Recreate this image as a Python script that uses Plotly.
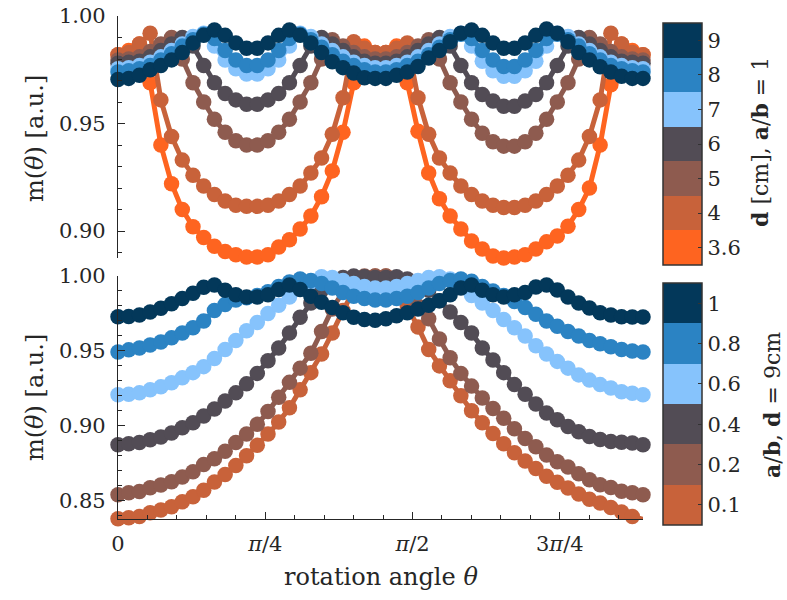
import numpy as np
import plotly.graph_objects as go

# rotation angle grid [rad]
theta = np.linspace(0.0, 2.8, 50)

# ---------- top panel: a/b = 1, varying d [cm] ----------
d_labels = ["3.6", "4", "5", "6", "7", "8", "9"]
top_colors = ["#fe6420", "#c8623a", "#8e5b4f", "#524c55", "#86c3fc", "#2b83c3", "#03385a"]

m_d36 = [0.982, 0.984, 0.987, 0.969, 0.940, 0.922, 0.910, 0.902, 0.897, 0.893,
         0.8905, 0.889, 0.888, 0.888, 0.889, 0.8926, 0.896, 0.901, 0.907, 0.916,
         0.928, 0.946, 0.969, 0.986, 0.983, 0.983, 0.986, 0.969, 0.9464, 0.927,
         0.915, 0.907, 0.901, 0.8954, 0.8917, 0.8884, 0.8875, 0.888, 0.889, 0.8917,
         0.895, 0.8977, 0.9023, 0.910, 0.920, 0.940, 0.968, 0.987, 0.984, 0.982]
m_d4 = [0.982, 0.983, 0.987, 0.992, 0.961, 0.944, 0.933, 0.926, 0.921, 0.917,
        0.914, 0.912, 0.9115, 0.9115, 0.912, 0.914, 0.917, 0.921, 0.927, 0.934,
        0.945, 0.962, 0.988, 0.985, 0.983, 0.983, 0.985, 0.9875, 0.962, 0.945,
        0.934, 0.927, 0.921, 0.917, 0.914, 0.912, 0.911, 0.911, 0.912, 0.914,
        0.917, 0.921, 0.926, 0.933, 0.944, 0.961, 0.992, 0.987, 0.983, 0.982]
m_d5 = [0.9795, 0.980, 0.981, 0.9835, 0.987, 0.990, 0.980, 0.969, 0.960, 0.952,
        0.946, 0.942, 0.940, 0.940, 0.942, 0.946, 0.952, 0.960, 0.969, 0.980,
        0.989, 0.986, 0.983, 0.981, 0.980, 0.980, 0.981, 0.983, 0.986, 0.989,
        0.980, 0.969, 0.960, 0.952, 0.9455, 0.9415, 0.9395, 0.9395, 0.9415, 0.9455,
        0.952, 0.960, 0.969, 0.980, 0.990, 0.987, 0.9835, 0.981, 0.980, 0.9795]
m_d6 = [0.978, 0.9785, 0.979, 0.981, 0.984, 0.987, 0.990, 0.986, 0.977, 0.969,
        0.964, 0.961, 0.959, 0.959, 0.961, 0.964, 0.969, 0.977, 0.986, 0.990,
        0.987, 0.984, 0.981, 0.979, 0.978, 0.978, 0.979, 0.981, 0.984, 0.987,
        0.990, 0.986, 0.977, 0.969, 0.9635, 0.9605, 0.958, 0.958, 0.9605, 0.9635,
        0.969, 0.977, 0.986, 0.990, 0.987, 0.984, 0.981, 0.979, 0.9785, 0.978]
m_d7 = [0.9755, 0.976, 0.977, 0.9785, 0.981, 0.984, 0.987, 0.9905, 0.992, 0.986,
        0.9795, 0.9755, 0.973, 0.973, 0.9755, 0.9795, 0.986, 0.992, 0.9905, 0.987,
        0.984, 0.981, 0.9785, 0.977, 0.976, 0.976, 0.977, 0.9785, 0.981, 0.984,
        0.987, 0.9905, 0.992, 0.986, 0.979, 0.9745, 0.972, 0.972, 0.9745, 0.979,
        0.986, 0.992, 0.9905, 0.987, 0.984, 0.981, 0.9785, 0.977, 0.976, 0.9755]
m_d8 = [0.974, 0.9745, 0.9755, 0.977, 0.9795, 0.9825, 0.986, 0.989, 0.9915, 0.9895,
        0.984, 0.9795, 0.977, 0.977, 0.9795, 0.984, 0.9895, 0.9915, 0.989, 0.9855,
        0.982, 0.979, 0.977, 0.975, 0.974, 0.974, 0.975, 0.977, 0.979, 0.982,
        0.9855, 0.989, 0.9915, 0.9895, 0.984, 0.9795, 0.9765, 0.9765, 0.9795, 0.984,
        0.9895, 0.9915, 0.989, 0.986, 0.9825, 0.9795, 0.977, 0.9755, 0.9745, 0.974]
m_d9 = [0.9705, 0.971, 0.9725, 0.975, 0.977, 0.9796, 0.983, 0.9875, 0.991, 0.9935,
        0.991, 0.9875, 0.985, 0.985, 0.9875, 0.991, 0.9935, 0.991, 0.9875, 0.983,
        0.9787, 0.976, 0.9735, 0.9713, 0.971, 0.971, 0.9725, 0.974, 0.9765, 0.9805,
        0.984, 0.988, 0.992, 0.9935, 0.991, 0.9875, 0.985, 0.985, 0.9875, 0.991,
        0.994, 0.992, 0.988, 0.983, 0.9796, 0.9764, 0.974, 0.972, 0.971, 0.971]
top_series = [m_d36, m_d4, m_d5, m_d6, m_d7, m_d8, m_d9]

# ---------- bottom panel: d = 9 cm, varying a/b ----------
ab_labels = ["0.1", "0.2", "0.4", "0.6", "0.8", "1"]
bot_colors = ["#c8623a", "#8e5b4f", "#524c55", "#86c3fc", "#2b83c3", "#03385a"]

m_ab01 = [0.838, 0.8387, 0.8395, 0.842, 0.8438, 0.846, 0.8493, 0.8527, 0.857, 0.8625,
          0.8675, 0.8735, 0.880, 0.887, 0.8945, 0.9025, 0.912, 0.924, 0.9355, 0.948,
          0.962, 0.977, 0.990, 0.998, 1.0, 1.0, 0.993, 0.980, 0.966, 0.951,
          0.940, 0.930, 0.920, 0.910, 0.902, 0.8948, 0.888, 0.882, 0.8765, 0.8715,
          0.8663, 0.8623, 0.8585, 0.8545, 0.851, 0.8485, 0.8455, 0.8425, 0.8395, 0.8375]
m_ab02 = [0.854, 0.8553, 0.8562, 0.8587, 0.8605, 0.8627, 0.8658, 0.8693, 0.8742, 0.878,
          0.883, 0.8888, 0.8945, 0.901, 0.9095, 0.919, 0.929, 0.9385, 0.9485, 0.963,
          0.978, 0.9895, 0.997, 1.0, 1.0, 1.0, 0.997, 0.990, 0.980, 0.9715,
          0.958, 0.9455, 0.935, 0.9265, 0.9185, 0.9115, 0.905, 0.898, 0.8915, 0.886,
          0.8805, 0.876, 0.8725, 0.868, 0.864, 0.8607, 0.8588, 0.8563, 0.8553, 0.854]
m_ab04 = [0.8873, 0.888, 0.8888, 0.8907, 0.8925, 0.8952, 0.8987, 0.902, 0.9065, 0.9112,
          0.9165, 0.922, 0.928, 0.935, 0.9435, 0.952, 0.962, 0.9725, 0.982, 0.9905,
          0.996, 0.999, 1.0, 0.9995, 0.999, 0.999, 0.9995, 0.998, 0.996, 0.9905,
          0.9835, 0.976, 0.969, 0.962, 0.952, 0.944, 0.9355, 0.9275, 0.921, 0.9145,
          0.9085, 0.904, 0.8995, 0.896, 0.8928, 0.8908, 0.8895, 0.889, 0.8885, 0.8873]
m_ab06 = [0.9207, 0.921, 0.922, 0.924, 0.926, 0.9287, 0.932, 0.9355, 0.9395, 0.945,
          0.951, 0.957, 0.9635, 0.969, 0.975, 0.9805, 0.986, 0.992, 0.996, 0.9995,
          0.999, 0.997, 0.995, 0.993, 0.992, 0.992, 0.993, 0.995, 0.997, 0.999,
          0.9995, 0.998, 0.993, 0.987, 0.982, 0.977, 0.971, 0.9655, 0.960, 0.9535,
          0.948, 0.943, 0.9385, 0.934, 0.9305, 0.9275, 0.9252, 0.9228, 0.9218, 0.9207]
m_ab08 = [0.9493, 0.9507, 0.952, 0.954, 0.956, 0.9587, 0.962, 0.9655, 0.970, 0.977,
          0.981, 0.984, 0.9855, 0.987, 0.9895, 0.993, 0.996, 0.998, 0.997, 0.995,
          0.992, 0.989, 0.9865, 0.985, 0.984, 0.984, 0.985, 0.9865, 0.989, 0.992,
          0.995, 0.997, 0.998, 0.9965, 0.993, 0.990, 0.987, 0.983, 0.979, 0.9745,
          0.970, 0.9665, 0.963, 0.960, 0.957, 0.9548, 0.9528, 0.951, 0.950, 0.9493]
m_ab10 = [0.9728, 0.973, 0.974, 0.976, 0.9785, 0.9815, 0.985, 0.9885, 0.9925, 0.994,
          0.9905, 0.9875, 0.986, 0.986, 0.9875, 0.991, 0.994, 0.991, 0.9865, 0.9825,
          0.979, 0.9755, 0.9725, 0.971, 0.9705, 0.9715, 0.9735, 0.9755, 0.978, 0.9805,
          0.9835, 0.9875, 0.992, 0.994, 0.9905, 0.9875, 0.986, 0.9875, 0.989, 0.9927,
          0.994, 0.9907, 0.986, 0.982, 0.9787, 0.9755, 0.974, 0.9728, 0.9727, 0.9727]
bot_series = [m_ab01, m_ab02, m_ab04, m_ab06, m_ab08, m_ab10]

x_tickvals = [0, np.pi / 4, np.pi / 2, 3 * np.pi / 4]
x_ticktext = ["0", "<i>π</i>/4", "<i>π</i>/2", "3<i>π</i>/4"]

W, H = 787, 600
FONT = "DejaVu Serif"
TXT = "#262626"
TICK_SIZE = 21
TITLE_SIZE = 24
MSIZE = 15.5
LWIDTH = 5

def px_x(p):
    return p / W

def px_y(p):
    return 1 - p / H

fig = go.Figure()

for vals, col in zip(top_series, top_colors):
    fig.add_trace(go.Scatter(x=theta, y=vals, mode="lines+markers",
                             line=dict(color=col, width=LWIDTH),
                             marker=dict(color=col, size=MSIZE),
                             cliponaxis=False, xaxis="x", yaxis="y",
                             showlegend=False, hoverinfo="skip"))
for vals, col in zip(bot_series, bot_colors):
    fig.add_trace(go.Scatter(x=theta, y=vals, mode="lines+markers",
                             line=dict(color=col, width=LWIDTH),
                             marker=dict(color=col, size=MSIZE),
                             cliponaxis=False, xaxis="x2", yaxis="y2",
                             showlegend=False, hoverinfo="skip"))

def stepped(colors):
    n = len(colors)
    cs = []
    for k, c in enumerate(colors):
        cs.append([k / n, c])
        cs.append([(k + 1) / n, c])
    return cs

def colorbar_trace(colors, labels, xa, ya, cy):
    n = len(colors)
    return go.Scatter(
        x=[0.1], y=[0.95], mode="markers", xaxis=xa, yaxis=ya,
        marker=dict(size=1, opacity=0, color=[0], cmin=0, cmax=n,
                    colorscale=stepped(colors), showscale=True,
                    colorbar=dict(
                        x=px_x(663), xanchor="left", xpad=0, ypad=0,
                        y=px_y(cy), yanchor="middle",
                        thickness=39, thicknessmode="pixels",
                        len=242, lenmode="pixels",
                        outlinewidth=1.5, outlinecolor="#333333",
                        tickmode="array",
                        tickvals=[k + 0.5 for k in range(n)], ticktext=labels,
                        ticks="inside", ticklen=4, tickcolor="#333333",
                        tickfont=dict(family=FONT, size=TICK_SIZE, color=TXT),
                    )),
        showlegend=False, hoverinfo="skip")

fig.add_trace(colorbar_trace(top_colors, d_labels, "x", "y", 144))
fig.add_trace(colorbar_trace(bot_colors, ab_labels, "x2", "y2", 404))

xdom = [px_x(118), px_x(643)]
yaxis_common = dict(
    showgrid=False, zeroline=False, showline=True, linecolor=TXT, linewidth=1.2,
    ticks="inside", ticklen=7, tickwidth=1.2, tickcolor=TXT, automargin=False,
    tickmode="linear", tick0=0, dtick=0.05, tickformat=".2f",
    tickfont=dict(family=FONT, size=TICK_SIZE, color=TXT), ticklabelstandoff=7,
    minor=dict(ticks="inside", ticklen=4, tickwidth=1, tickcolor=TXT,
               tickmode="linear", tick0=0, dtick=0.01, showgrid=False),
)

def label(text, x, y, angle=0, size=TITLE_SIZE):
    return dict(text=text, x=px_x(x), y=px_y(y), xref="paper", yref="paper",
                xanchor="center", yanchor="middle", textangle=angle,
                showarrow=False, font=dict(family=FONT, size=size, color=TXT))

fig.update_layout(
    width=W, height=H,
    margin=dict(l=0, r=0, t=0, b=0, pad=0, autoexpand=False),
    paper_bgcolor="white", plot_bgcolor="white", hovermode=False,
    xaxis=dict(domain=xdom, range=[0, 2.8], anchor="y", showgrid=False,
               zeroline=False, showline=False, showticklabels=False, ticks="",
               automargin=False),
    yaxis=dict(domain=[px_y(258), px_y(16)], range=[0.8875, 1.0], anchor="x",
               **yaxis_common),
    xaxis2=dict(domain=xdom, range=[0, 2.8], anchor="y2", showgrid=False,
                zeroline=False, showline=True, linecolor=TXT, linewidth=1.2,
                automargin=False,
                tickmode="array", tickvals=x_tickvals, ticktext=x_ticktext,
                ticks="inside", ticklen=7, tickwidth=1.2, tickcolor=TXT,
                tickfont=dict(family=FONT, size=TICK_SIZE, color=TXT),
                ticklabelstandoff=6,
                minor=dict(ticks="inside", ticklen=4, tickwidth=1, tickcolor=TXT,
                           tickmode="array",
                           tickvals=[k * np.pi / 20 for k in range(18)])),
    yaxis2=dict(domain=[px_y(519), px_y(276)], range=[0.8378, 1.0], anchor="x2",
                **yaxis_common),
    annotations=[
        label("m(<i>θ</i>) [a.u.]", 35, 139, -90),
        label("m(<i>θ</i>) [a.u.]", 35, 398, -90),
        label("rotation angle <i>θ</i>", 381, 577),
        label("<b>d</b> [cm], <b>a</b>/<b>b</b> = 1", 760, 142, -90, 22),
        label("<b>a</b>/<b>b</b>, <b>d</b> = 9cm", 772, 405, -90, 22),
    ],
)

fig.write_html("out.html")
